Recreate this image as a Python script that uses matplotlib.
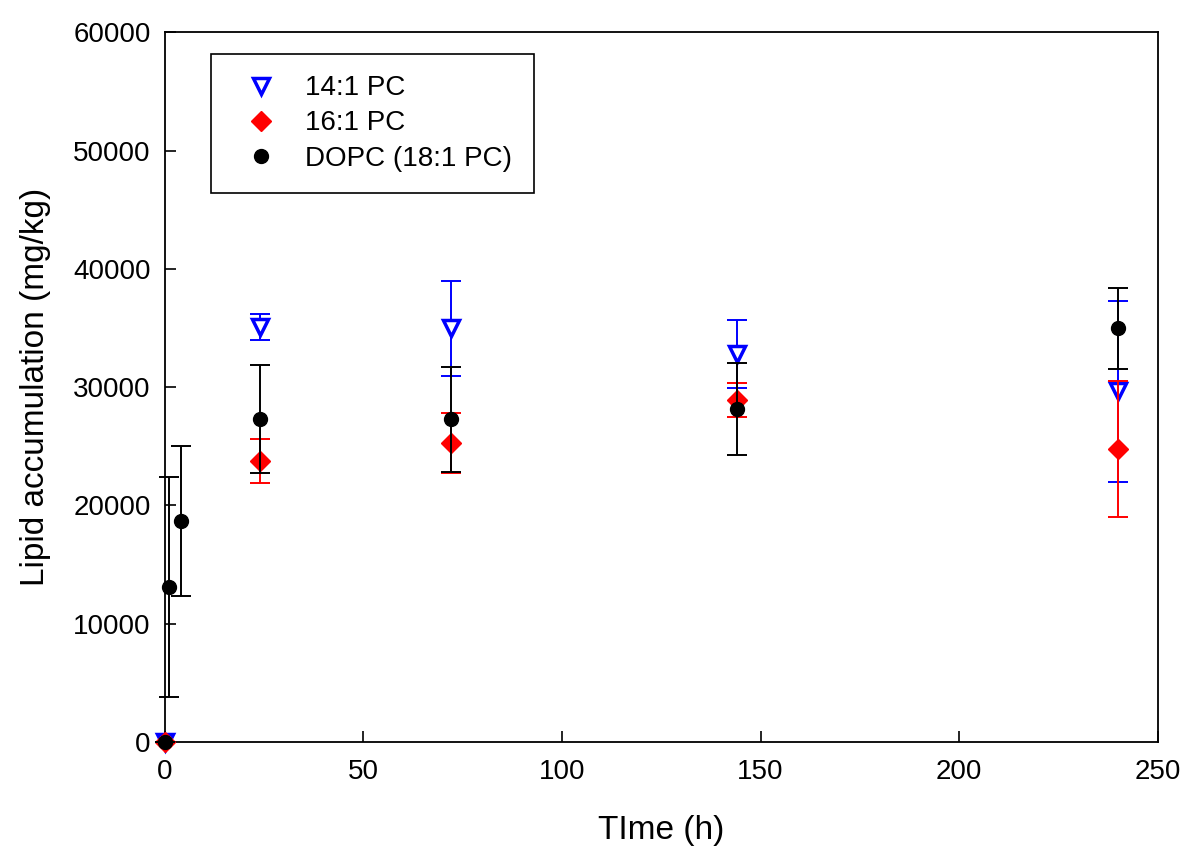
import matplotlib
matplotlib.use("Agg")
import matplotlib.pyplot as plt

plt.rcParams['font.family'] = ['Liberation Sans', 'DejaVu Sans']

# 14:1 PC
t_141 = [0, 24, 72, 144, 240]
y_141 = [0, 35100, 34970, 32790, 29640]
e_141 = [0, 1130, 4040, 2890, 7640]

# 16:1 PC
t_161 = [0, 24, 72, 144, 240]
y_161 = [0, 23800, 25250, 28910, 24800]
e_161 = [0, 1860, 2540, 1410, 5750]

# DOPC (18:1 PC)
t_dopc = [0, 1, 4, 24, 72, 144, 240]
y_dopc = [0, 13130, 18680, 27300, 27300, 28170, 34970]
e_dopc = [0, 9300, 6340, 4550, 4440, 3880, 3450]

fig = plt.figure(figsize=(11.85, 8.51), dpi=100)
ax = fig.add_axes([0.139, 0.128, 0.838, 0.834])

series = [
    (t_141, y_141, e_141, '#0000ff', 'v', 'white', 2.5, 11, '14:1 PC'),
    (t_161, y_161, e_161, '#ff0000', 'D', '#ff0000', 1, 10, '16:1 PC'),
    (t_dopc, y_dopc, e_dopc, 'black', 'o', 'black', 1, 10, 'DOPC (18:1 PC)'),
]
z = 3
for t, y, e, c, m, fc, mw, ms, lab in series:
    ax.errorbar(t, y, yerr=e, fmt='none', ecolor=c, elinewidth=1.4,
                capsize=7, capthick=1.4, zorder=z, clip_on=False)
    ax.plot(t, y, ls='none', marker=m, mfc=fc, mec=c, mew=mw, ms=ms,
            label=lab, zorder=z + 0.5, clip_on=False)
    z += 1

ax.set_xlim(0, 250)
ax.set_ylim(0, 60000)
ax.set_xticks([0, 50, 100, 150, 200, 250])
ax.set_yticks(range(0, 60001, 10000))
ax.tick_params(direction='in', length=8, width=1.2, labelsize=20)
ax.tick_params(axis='x', pad=12)
ax.tick_params(axis='y', pad=10)
for s in ax.spines.values():
    s.set_linewidth(1.3)

ax.set_xlabel('TIme (h)', fontsize=24, labelpad=22)
ax.set_ylabel('Lipid accumulation (mg/kg)', fontsize=24, labelpad=16)

leg = ax.legend(loc='upper left', bbox_to_anchor=(0.047, 0.970),
                borderaxespad=0, fancybox=False, edgecolor='black',
                fontsize=20, borderpad=0.78, labelspacing=0.33,
                handletextpad=0.6, handlelength=2.0, framealpha=1)
leg.get_frame().set_linewidth(1.2)

fig.savefig('out.png', dpi=100)
